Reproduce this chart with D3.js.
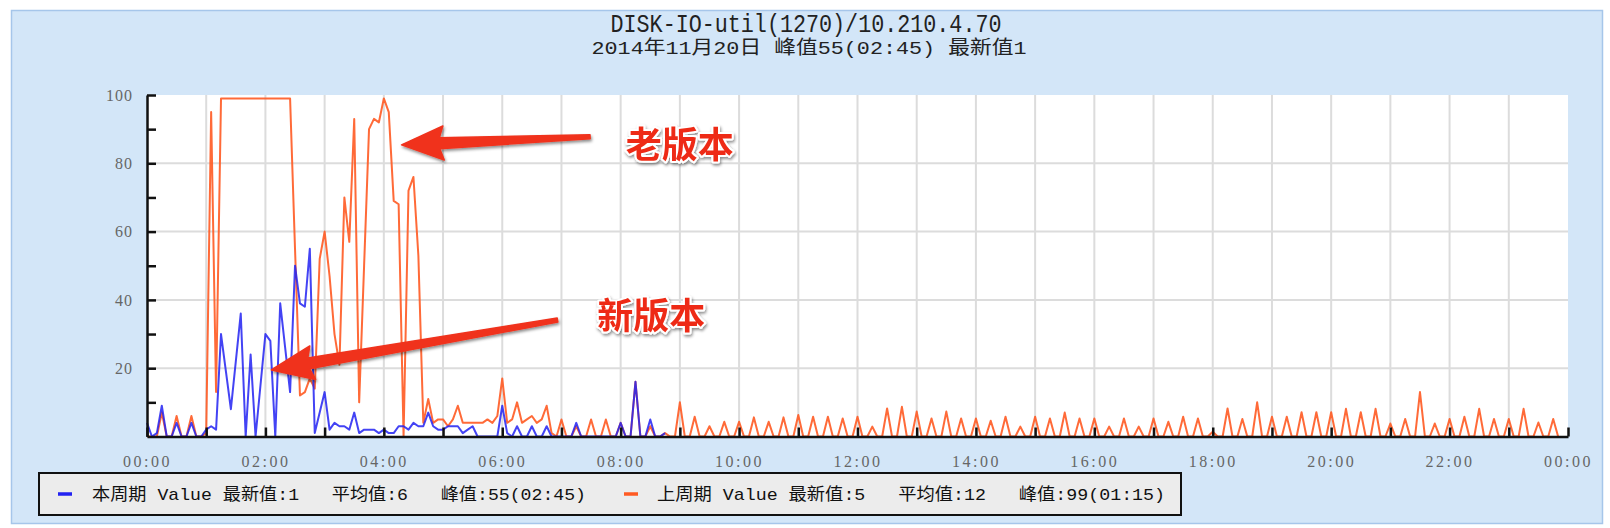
<!DOCTYPE html>
<html><head><meta charset="utf-8">
<script src="https://cdn.jsdelivr.net/npm/d3@7"></script>
<style>
html,body{margin:0;padding:0;background:#fff;}
svg{display:block;}
</style></head><body>
<svg id="chart" width="1610" height="528"></svg>
<script>
const titleText = "DISK-IO-util(1270)/10.210.4.70";
const subtitleText = "2014年11月20日 峰值55(02:45) 最新值1";
const stepMinutes = 5;

// 本周期 (current period), one value every 5 minutes from 00:00
const currentValues = [
  4,0,1,9,0,0,4,0,0,4,0,0,
  2,3,2,30,19,8,22,36,0,24,0,15,
  30,28,0,39,26,13,50,39,38,55,1,7,
  13,2,4,3,3,2,7,1,2,2,2,1,
  2,1,1,3,3,2,4,3,3,7,3,2,
  2,3,3,3,1,2,3,0,0,0,0,0,
  9,1,0,3,0,0,3,0,0,3,0,0,
  0,0,0,4,0,0,0,0,0,0,0,0,
  4,0,0,16,0,0,5,0,0,1
];

// 上周期 (previous period), one value every 5 minutes from 00:00
const previousValues = [
  0,0,0,7,0,0,6,0,0,6,0,0,
  1,95,13,99,99,99,99,99,99,99,99,99,
  99,99,99,99,99,99,55,12,13,17,14,52,
  60,47,30,21,70,57,93,10,50,90,93,92,
  99,95,69,68,0,72,76,53,4,11,4,5,
  5,3,5,9,4,4,4,4,4,5,4,6,
  17,4,5,10,4,5,6,4,5,9,1,0,
  5,0,0,3,0,0,5,0,0,5,0,0,
  4,0,0,16,0,0,3,0,0,1,0,0,
  10,0,0,5.8,0,0,3,0,0,4.3,0,0,
  4.3,0,0,5.6,0,0,4.3,0,0,5.6,0,0,
  6.3,0,0,5.8,0,0,5.8,0,0,5.3,0,0,
  5.8,0,0,2.9,0,0,8.2,0,0,8.7,0,0,
  7.3,0,0,5.3,0,0,7.3,0,0,5.3,0,0,
  5.3,0,0,4.6,0,0,5.8,0,0,2.9,0,0,
  5.8,0,0,5.3,0,0,7,0,0,5.3,0,0,
  5.3,0,0,2.9,0,0,5.3,0,0,2.9,0,0,
  5.3,0,0,4.3,0,0,5.8,0,0,5.3,0,0,
  1.4,0,0,8.2,0,0,5.1,0,0,10,0,0,
  5.8,0,0,5.8,0,0,7.1,0,0,7.1,0,0,
  7.1,0,0,8.1,0,0,7.1,0,0,8.1,0,0,
  3.8,0,0,5.1,0,0,13,0,0,3.8,0,0,
  5.1,0,0,5.8,0,0,8.1,0,0,5.1,0,0,
  5.1,0,0,8.1,0,0,4.1,0,0,5.1,0
];

const xTickLabels = ["00:00","02:00","04:00","06:00","08:00","10:00","12:00","14:00","16:00","18:00","20:00","22:00","00:00"];
const yTickLabels = [20, 40, 60, 80, 100];
const seriesNames = ["本周期 Value 最新值:1   平均值:6   峰值:55(02:45)", "上周期 Value 最新值:5   平均值:12   峰值:99(01:15)"];
const seriesColors = ["#2222f2", "#ff5a22"];
const annotationLabels = ["老版本", "新版本"];
// annotation anchor points in data space [minutes, value]
const annotationTips = [[258, 85.4], [126, 19.5]];
const annotationTails = [[449, 87.8], [416, 34.1]];
const annotationTextAt = [[540, 85.4], [511, 35.3]];

const svg = d3.select("#chart");
const plot = {left: 147, right: 1568, top: 95, bottom: 436.5};

const x = d3.scaleLinear().domain([0, 1440]).range([plot.left, plot.right]);
const y = d3.scaleLinear().domain([0, 100]).range([plot.bottom, plot.top]);

const defs = svg.append("defs");
const f = defs.append("filter").attr("id", "shadow").attr("x", "-20%").attr("y", "-40%").attr("width", "140%").attr("height", "180%");
f.append("feDropShadow").attr("dx", 1).attr("dy", 2).attr("stdDeviation", 1.6).attr("flood-color", "#000").attr("flood-opacity", 0.45);

// panel
svg.append("rect").attr("x", 11.5).attr("y", 10.5).attr("width", 1591).attr("height", 513)
  .attr("fill", "#d3e6f8").attr("stroke", "#a6c6ea").attr("stroke-width", 1.5);

// titles
svg.append("text").attr("x", 806).attr("y", 32).attr("text-anchor", "middle")
  .attr("font-family", "'Liberation Mono','Noto Sans CJK SC',monospace").attr("font-size", 25)
  .attr("textLength", 391).attr("lengthAdjust", "spacingAndGlyphs").attr("fill", "#222").text(titleText);
svg.append("text").attr("x", 809).attr("y", 54).attr("text-anchor", "middle")
  .attr("font-family", "'Liberation Mono','Noto Sans CJK SC',monospace").attr("font-size", 19)
  .attr("textLength", 435).attr("lengthAdjust", "spacingAndGlyphs").attr("fill", "#222").text(subtitleText);

// plot background
svg.append("rect").attr("x", plot.left).attr("y", plot.top).attr("width", plot.right - plot.left).attr("height", plot.bottom - plot.top).attr("fill", "#fff");

// grid
const gridHours = d3.range(1, 24);
const gridValues = [20, 40, 60, 80];
svg.append("g").selectAll("line").data(gridHours).join("line")
  .attr("x1", h => x(h * 60)).attr("x2", h => x(h * 60)).attr("y1", plot.top).attr("y2", plot.bottom)
  .attr("stroke", "#dcdcdc").attr("stroke-width", 2);
svg.append("g").selectAll("line").data(gridValues).join("line")
  .attr("x1", plot.left).attr("x2", plot.right).attr("y1", v => y(v)).attr("y2", v => y(v))
  .attr("stroke", "#dcdcdc").attr("stroke-width", 2);

// lines
const line = d3.line().x((d, i) => x(i * stepMinutes)).y(d => y(d));
svg.append("path").datum(previousValues).attr("d", line).attr("fill", "none")
  .attr("stroke", seriesColors[1]).attr("stroke-width", 2).attr("stroke-opacity", 0.9).attr("stroke-linejoin", "round");
svg.append("path").datum(currentValues).attr("d", line).attr("fill", "none")
  .attr("stroke", seriesColors[0]).attr("stroke-width", 2).attr("stroke-opacity", 0.85).attr("stroke-linejoin", "round");

// axes
const xAxis = d3.axisBottom(x).tickValues(d3.range(0, 1441, 60)).tickSize(-9).tickSizeOuter(0).tickPadding(19)
  .tickFormat(m => m % 120 === 0 ? xTickLabels[m / 120] : "");
const gx = svg.append("g").attr("transform", `translate(0,${plot.bottom})`).call(xAxis);
const yAxis = d3.axisLeft(y).tickValues(d3.range(10, 101, 10)).tickSize(-9).tickSizeOuter(0).tickPadding(14)
  .tickFormat(v => yTickLabels.includes(v) ? String(v) : "");
const gy = svg.append("g").attr("transform", `translate(${plot.left},0)`).call(yAxis);
[gx, gy].forEach(g => {
  g.select(".domain").attr("stroke", "#111").attr("stroke-width", 2.5);
  g.selectAll(".tick line").attr("stroke", "#111").attr("stroke-width", 2.5);
  g.selectAll(".tick text").attr("fill", "#666").attr("font-family", "'Liberation Serif',serif").attr("font-size", 16);
});
gx.selectAll(".tick text").attr("letter-spacing", "2.5px");
gy.selectAll(".tick text").attr("letter-spacing", "1px");

// legend
svg.append("rect").attr("x", 39).attr("y", 473).attr("width", 1142).attr("height", 42)
  .attr("fill", "#ececec").attr("stroke", "#111").attr("stroke-width", 2);
const legendDashX = [58, 624];
const legendTextX = [92, 657];
const legendTextW = [494, 508];
seriesNames.forEach((name, i) => {
  svg.append("line").attr("x1", legendDashX[i]).attr("x2", legendDashX[i] + 14).attr("y1", 494).attr("y2", 494)
    .attr("stroke", seriesColors[i]).attr("stroke-width", 3.5);
  svg.append("text").attr("x", legendTextX[i]).attr("y", 500).style("white-space", "pre")
    .attr("font-family", "'Liberation Mono','Noto Sans CJK SC',monospace").attr("font-size", 17)
    .attr("textLength", legendTextW[i]).attr("lengthAdjust", "spacingAndGlyphs").attr("fill", "#111").text(name);
});

// annotations (arrows + labels)
const arrowColor = "#f0321c";
annotationLabels.forEach((label, i) => {
  const P = [x(annotationTips[i][0]), y(annotationTips[i][1])];
  const T = [x(annotationTails[i][0]), y(annotationTails[i][1])];
  const dx = P[0] - T[0], dy = P[1] - T[1], len = Math.hypot(dx, dy);
  const u = [dx / len, dy / len], n = [-u[1], u[0]];
  const L = 38, hw = 17, sb = 5.5, st = 2;
  const B = [P[0] - u[0] * L, P[1] - u[1] * L];
  const pts = [
    [T[0] + n[0] * st, T[1] + n[1] * st],
    [B[0] + n[0] * sb, B[1] + n[1] * sb],
    [B[0] - u[0] * 4 + n[0] * hw, B[1] - u[1] * 4 + n[1] * hw],
    P,
    [B[0] - u[0] * 4 - n[0] * hw, B[1] - u[1] * 4 - n[1] * hw],
    [B[0] - n[0] * sb, B[1] - n[1] * sb],
    [T[0] - n[0] * st, T[1] - n[1] * st]
  ];
  svg.append("path").attr("d", "M" + pts.map(p => p.join(",")).join("L") + "Z")
    .attr("fill", arrowColor).attr("stroke", arrowColor).attr("stroke-width", 1.5).attr("stroke-linejoin", "round")
    .attr("filter", "url(#shadow)");
  svg.append("text").attr("x", x(annotationTextAt[i][0])).attr("y", y(annotationTextAt[i][1]) + 13)
    .attr("text-anchor", "middle").attr("font-family", "'Noto Sans CJK SC',sans-serif").attr("font-weight", "bold")
    .attr("font-size", 36).attr("fill", "#ee2c16").attr("stroke", "#fff").attr("stroke-width", 4)
    .attr("paint-order", "stroke").attr("stroke-linejoin", "round").attr("filter", "url(#shadow)").text(label);
});
</script>
</body></html>
